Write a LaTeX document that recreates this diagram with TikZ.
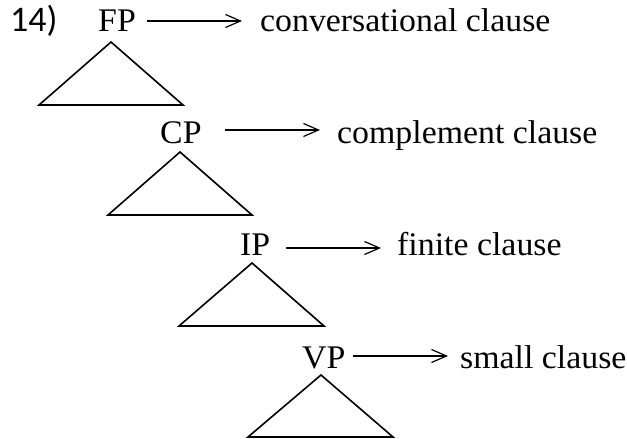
\documentclass[tikz,border=0pt]{standalone}
\usepackage{fontspec}
\setmainfont[FakeStretch=1.025]{Liberation Serif}
\newfontfamily\numfont{Carlito}
\usetikzlibrary{arrows.meta}
\begin{document}
\begin{tikzpicture}[x=1pt,y=-1pt,
  lbl/.style={anchor=base west,inner sep=0pt,font=\fontsize{33}{40}\selectfont},
  cat/.style={lbl},
  tri/.style={draw,line width=1.6pt,line join=miter},
  maps/.style={line width=1.2pt,-{Straight Barb[length=15pt,width=13pt,line width=1.2pt]}}]
\useasboundingbox (0,0) rectangle (627,439);
% example number
\node[lbl,font=\numfont\fontsize{36}{42}\selectfont] (num) at (10,31) {14)};
% FP level
\node[cat] (fp) at (98,31) {FP};
\coordinate (fpa) at (147,21);
\coordinate (fpb) at (242,21);
\node[lbl] (fpl) at (260,31) {conversational clause};
\draw[maps] (fpa) -- (fpb);
\coordinate (t1) at (111,42);
\draw[tri] (t1) -- (183,105) -- (39,105) -- cycle;
% CP level
\node[cat] (cp) at (160,143) {CP};
\coordinate (cpa) at (225,130);
\coordinate (cpb) at (320,130);
\node[lbl] (cpl) at (337,143) {complement clause};
\draw[maps] (cpa) -- (cpb);
\coordinate (t2) at (180,152);
\draw[tri] (t2) -- (252,215) -- (108,215) -- cycle;
% IP level
\node[cat] (ip) at (240,255) {IP};
\coordinate (ipa) at (286,248);
\coordinate (ipb) at (381,248);
\node[lbl] (ipl) at (397,255) {finite clause};
\draw[maps] (ipa) -- (ipb);
\coordinate (t3) at (252,263);
\draw[tri] (t3) -- (324,326) -- (179,326) -- cycle;
% VP level
\node[cat] (vp) at (302,368) {VP};
\coordinate (vpa) at (353,356);
\coordinate (vpb) at (448,356);
\node[lbl] (vpl) at (460,368) {small clause};
\draw[maps] (vpa) -- (vpb);
\coordinate (t4) at (321,375);
\draw[tri] (t4) -- (393,437) -- (248,437) -- cycle;
\end{tikzpicture}
\end{document}
